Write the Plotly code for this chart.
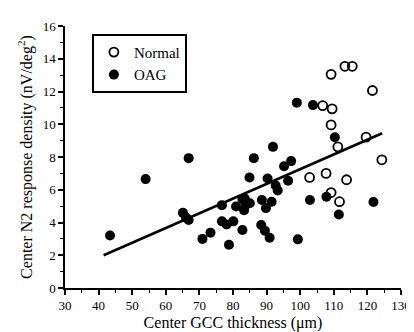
import plotly.graph_objects as go

# Normal eyes (open circles)
normal_x = [109.2, 113.3, 115.5, 121.5, 106.7, 109.5, 109.2, 111.2, 119.6, 124.3, 102.8, 107.7, 113.8, 109.2, 111.7]
normal_y = [13.05, 13.54, 13.54, 12.06, 11.14, 10.94, 9.96, 8.62, 9.21, 7.83, 6.75, 7.0, 6.61, 5.83, 5.27]

# OAG eyes (filled circles)
oag_x = [43.4, 54.0, 66.8, 65.1, 66.0, 66.8, 70.9, 73.3, 76.7, 76.7, 78.1, 80.1, 78.8, 82.8,
         80.9, 82.8, 83.8, 83.3, 84.9, 86.2, 88.6, 89.8, 91.5, 88.4, 89.5, 90.9, 90.3, 91.9,
         92.7, 93.3, 95.2, 97.3, 96.4, 99.3, 99.0, 103.8, 102.9, 107.8, 110.3, 111.5, 121.8,
         83.5, 85.0]
oag_y = [3.21, 6.65, 7.93, 4.59, 4.3, 4.15, 3.0, 3.38, 5.06, 4.07, 3.88, 4.07, 2.64, 3.54,
         4.98, 5.4, 5.08, 4.75, 6.75, 7.93, 5.37, 4.88, 5.27, 3.85, 3.5, 3.07, 6.69, 8.62,
         6.26, 5.96, 7.44, 7.75, 6.55, 2.97, 11.32, 11.17, 5.37, 5.57, 9.21, 4.49, 5.25,
         5.47, 5.18]

# Regression line endpoints
fit_x = [41.5, 124.4]
fit_y = [2.0, 9.45]

x_ticks = [30, 40, 50, 60, 70, 80, 90, 100, 110, 120, 130]
y_ticks = [0, 2, 4, 6, 8, 10, 12, 14, 16]

FONT = "Liberation Serif"

fig = go.Figure()
fig.add_trace(go.Scatter(x=fit_x, y=fit_y, mode="lines", line=dict(color="black", width=2.5),
                         showlegend=False, hoverinfo="skip"))
fig.add_trace(go.Scatter(x=normal_x, y=normal_y, mode="markers", name="Normal",
                         marker=dict(symbol="circle-open", size=9, color="black",
                                     line=dict(width=1.8, color="black"))))
fig.add_trace(go.Scatter(x=oag_x, y=oag_y, mode="markers", name="OAG",
                         marker=dict(symbol="circle", size=10, color="black",
                                     line=dict(width=0))))

axis_common = dict(showline=True, linecolor="black", linewidth=1.5, ticks="outside",
                   ticklen=5, tickwidth=1.5, tickcolor="black", showgrid=False, zeroline=False,
                   tickfont=dict(family=FONT, size=13, color="black"),
                   minor=dict(ticks="outside", ticklen=3, tickwidth=1.2, tickcolor="black", showgrid=False))

fig.update_xaxes(range=[30, 130], tickvals=x_ticks, ticktext=[str(v) for v in x_ticks],
                 minor_dtick=5,
                 title=dict(text="Center GCC thickness (μm)", font=dict(family=FONT, size=16, color="black"),
                            standoff=4),
                 **axis_common)
fig.update_yaxes(range=[0, 16], tickvals=y_ticks, ticktext=[str(v) for v in y_ticks],
                 minor_dtick=1,
                 title=dict(text="Center N2 response density (nV/deg<sup>2</sup>)",
                            font=dict(family=FONT, size=16, color="black"), standoff=6),
                 **axis_common)

fig.update_layout(
    width=414, height=332,
    margin=dict(l=57, r=11, t=15, b=46),
    plot_bgcolor="white", paper_bgcolor="white",
    legend=dict(x=0.08, y=0.97, xanchor="left", yanchor="top",
                bordercolor="black", borderwidth=2, bgcolor="white",
                font=dict(family=FONT, size=15, color="black"),
                itemwidth=30, tracegroupgap=0),
)

fig.write_html("out.html")
